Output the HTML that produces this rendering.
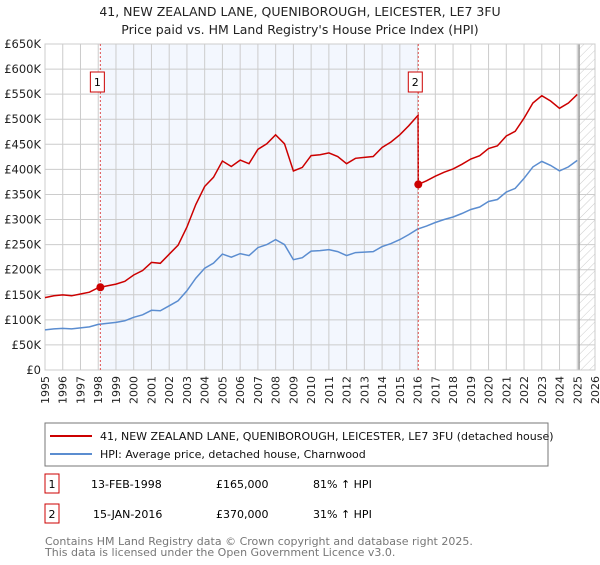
<!DOCTYPE html>
<html><head><meta charset="utf-8"><style>
body{margin:0;background:#fff;width:600px;height:560px;overflow:hidden;font-family:"Liberation Sans","DejaVu Sans",sans-serif;}
svg text{font-family:"DejaVu Sans","Liberation Sans",sans-serif;}
</style></head><body>
<svg width="600" height="560" id="c">
<defs><pattern id="hatch" width="6" height="6" patternUnits="userSpaceOnUse" patternTransform="rotate(45)"><line x1="0" y1="0" x2="0" y2="6" stroke="#ccc" stroke-width="1"/></pattern></defs>
<text x="300" y="16" text-anchor="middle" font-size="12.5" fill="#222">41, NEW ZEALAND LANE, QUENIBOROUGH, LEICESTER, LE7 3FU</text>
<text x="300" y="34" text-anchor="middle" font-size="12.5" fill="#222">Price paid vs. HM Land Registry's House Price Index (HPI)</text>
<g id="plot"></g>
<rect x="45" y="423" width="503" height="43" fill="#fff" stroke="#777"/>
<line x1="50" y1="436" x2="92" y2="436" stroke="#cc0000" stroke-width="2"/>
<text x="100" y="440" font-size="11" fill="#111">41, NEW ZEALAND LANE, QUENIBOROUGH, LEICESTER, LE7 3FU (detached house)</text>
<line x1="50" y1="454" x2="92" y2="454" stroke="#5b8dd0" stroke-width="2"/>
<text x="100" y="458" font-size="11" fill="#111">HPI: Average price, detached house, Charnwood</text>
<rect x="45" y="474" width="14" height="19" fill="#fff" stroke="#cc0000"/>
<text x="52" y="488" text-anchor="middle" font-size="11">1</text>
<text x="91" y="488" font-size="11">13-FEB-1998</text>
<text x="216" y="488" font-size="11">£165,000</text>
<text x="313" y="488" font-size="11">81% ↑ HPI</text>
<rect x="45" y="504" width="14" height="19" fill="#fff" stroke="#cc0000"/>
<text x="52" y="518" text-anchor="middle" font-size="11">2</text>
<text x="93" y="518" font-size="11">15-JAN-2016</text>
<text x="216" y="518" font-size="11">£370,000</text>
<text x="313" y="518" font-size="11">31% ↑ HPI</text>
<text x="45" y="545" font-size="11" fill="#777">Contains HM Land Registry data © Crown copyright and database right 2025.</text>
<text x="45" y="556" font-size="11" fill="#777">This data is licensed under the Open Government Licence v3.0.</text>
</svg>
<script>
const hpiYears=[1995,1995.5,1996,1996.5,1997,1997.5,1998,1998.5,1999,1999.5,2000,2000.5,2001,2001.5,2002,2002.5,2003,2003.5,2004,2004.5,2005,2005.5,2006,2006.5,2007,2007.5,2008,2008.5,2009,2009.5,2010,2010.5,2011,2011.5,2012,2012.5,2013,2013.5,2014,2014.5,2015,2015.5,2016,2016.5,2017,2017.5,2018,2018.5,2019,2019.5,2020,2020.5,2021,2021.5,2022,2022.5,2023,2023.5,2024,2024.5,2025];
const hpiValues=[80,82,83,82,84,86,91,93,95,98,105,110,119,118,128,138,158,183,203,213,231,225,232,228,244,250,260,250,220,224,237,238,240,236,228,234,235,236,246,252,260,270,281,287,294,300,305,312,320,325,336,340,355,362,382,405,416,408,397,405,418];
const sales=[{t:1998.12,p:165000,label:"1"},{t:2016.04,p:370000,label:"2"}];
const yTicks=[0,50,100,150,200,250,300,350,400,450,500,550,600,650];
const xTicks=[1995,1996,1997,1998,1999,2000,2001,2002,2003,2004,2005,2006,2007,2008,2009,2010,2011,2012,2013,2014,2015,2016,2017,2018,2019,2020,2021,2022,2023,2024,2025,2026];
const X0=45,X1=595,Y0=370,Y1=44,dataEnd=2025.1;
const xs=t=>X0+(t-1995)/31*(X1-X0);
const ys=v=>Y0-v/650*(Y0-Y1);
const NS="http://www.w3.org/2000/svg";
const g=document.getElementById('plot');
function mk(tag,attrs,parent){const e=document.createElementNS(NS,tag);for(const k in attrs)e.setAttribute(k,attrs[k]);(parent||g).appendChild(e);return e;}
function hpiAt(t){for(let i=0;i<hpiYears.length-1;i++){if(t<=hpiYears[i+1]){const f=(t-hpiYears[i])/(hpiYears[i+1]-hpiYears[i]);return hpiValues[i]+f*(hpiValues[i+1]-hpiValues[i]);}}return hpiValues[hpiValues.length-1];}
let r=mk('rect',{x:xs(sales[0].t),y:Y1,width:xs(sales[1].t)-xs(sales[0].t),height:Y0-Y1,fill:'#eef3fd',opacity:0.7});


let h=mk('rect',{x:xs(dataEnd),y:Y1,width:X1-xs(dataEnd),height:Y0-Y1,fill:'url(#hatch)'});


xTicks.forEach(t=>{const l=mk('line',{x1:xs(t),x2:xs(t),y1:Y1,y2:Y0,stroke:'#ccc','stroke-width':1});


const tx=mk('text',{x:0,y:0,'font-size':11,'text-anchor':'end',fill:'#222',transform:`translate(${xs(t)+4},${Y0+6}) rotate(-90)`});tx.textContent=t;

});
yTicks.forEach(v=>{const l=mk('line',{x1:X0,x2:X1,y1:ys(v),y2:ys(v),stroke:'#ccc','stroke-width':1});


const tx=mk('text',{x:X0-4,y:ys(v)+4,'font-size':11.5,'text-anchor':'end',fill:'#222'});tx.textContent=v===0?'£0':'£'+v+'K';

});
let dl=mk('line',{x1:xs(dataEnd),x2:xs(dataEnd),y1:Y1,y2:Y0,stroke:'#999','stroke-width':1.5});


let bx=mk('rect',{x:X0,y:Y1,width:X1-X0,height:Y0-Y1,fill:'none',stroke:'#ccc'});


let ptsB=hpiYears.map((t,i)=>xs(t).toFixed(1)+','+ys(hpiValues[i]).toFixed(1)).join(' ');
let pb=mk('polyline',{points:ptsB,fill:'none',stroke:'#5b8dd0','stroke-width':1.5});


const f1=sales[0].p/1000/hpiAt(sales[0].t), f2=sales[1].p/1000/hpiAt(sales[1].t);
let pr=[];
hpiYears.forEach((t,i)=>{if(t<sales[1].t)pr.push([t,hpiValues[i]*f1]);});
pr.push([sales[1].t-0.01,hpiAt(sales[1].t)*f1]);pr.push([sales[1].t,sales[1].p/1000]);
hpiYears.forEach((t,i)=>{if(t>sales[1].t)pr.push([t,hpiValues[i]*f2]);});
let pp=mk('polyline',{points:pr.map(p=>xs(p[0]).toFixed(1)+','+ys(p[1]).toFixed(1)).join(' '),fill:'none',stroke:'#cc0000','stroke-width':1.5});


sales.forEach(s=>{const l=mk('line',{x1:xs(s.t),x2:xs(s.t),y1:Y1,y2:Y0,stroke:'#e05050','stroke-width':1,'stroke-dasharray':'2,2'});


const c=mk('circle',{cx:xs(s.t),cy:ys(s.p/1000),r:4,fill:'#cc0000'});


const b=mk('rect',{x:xs(s.t)-10,y:72,width:14,height:20,fill:'#fff',stroke:'#cc0000'});


const t=mk('text',{x:xs(s.t)-3,y:86,'font-size':11,'text-anchor':'middle'});t.textContent=s.label;

});
</script>
</body></html>
